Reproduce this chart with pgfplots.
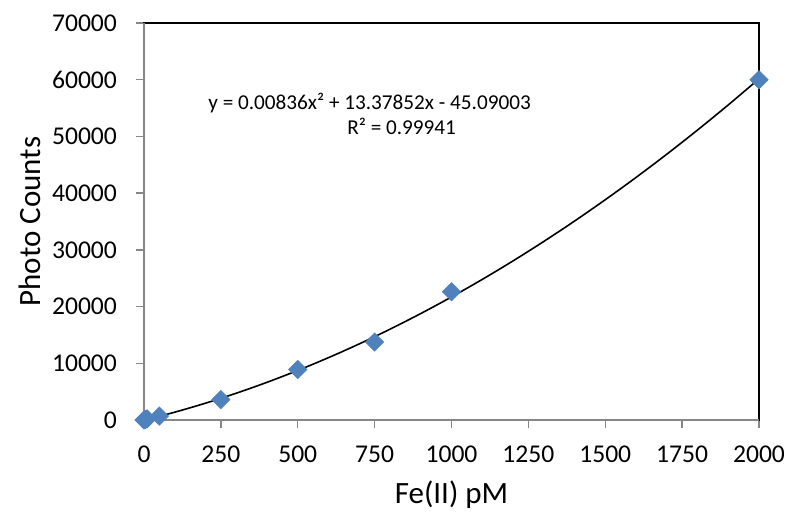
\documentclass[border=0pt]{standalone}
\usepackage{pgfplots}
\pgfplotsset{compat=1.18}
\usepackage{fontspec}
\setmainfont{Carlito}
\definecolor{exblue}{HTML}{4F81BD}
\definecolor{axgray}{HTML}{868686}
\begin{document}
\begin{tikzpicture}
\begin{axis}[
  at={(0,0)}, anchor=south west,
  scale only axis,
  width=307.5pt, height=198.5pt,
  xmin=0, xmax=2000, ymin=0, ymax=70000,
  xtick={0,250,...,2000},
  ytick={0,10000,...,70000},
  tick align=outside,
  xtick pos=bottom, ytick pos=left,
  major tick length=4pt,
  axis line style={black, line width=0.7pt},
  tick style={axgray, line width=0.7pt},
  /pgf/number format/assume math mode=true,
  scaled y ticks=false,
  xticklabel style={/pgf/number format/1000 sep={}, font=\fontsize{12.8}{14}\selectfont, yshift=-5.5pt},
  yticklabel style={/pgf/number format/1000 sep={}, font=\fontsize{12.8}{14}\selectfont, xshift=-6pt},
  xlabel={Fe(II) pM}, ylabel={Photo Counts},
  every axis x label/.style={at={(axis description cs:0.5,0)}, anchor=center, yshift=-37.5pt},
  every axis y label/.style={at={(axis description cs:0,0.5)}, anchor=center, rotate=90, yshift=57pt},
  label style={font=\fontsize{15.5}{17}\selectfont},
  clip=false,
]
\addplot[black, line width=0.8pt, smooth] coordinates {
(0,-45.09) (100,1376.4) (200,2965.0) (300,4720.9) (400,6643.9) (500,8734.2)
(600,10991.6) (700,13416.3) (800,16008.1) (900,18767.2) (1000,21693.4)
(1100,24786.9) (1200,28047.5) (1300,31475.4) (1400,35070.4) (1500,38832.7)
(1600,42762.1) (1700,46858.8) (1800,51122.7) (1900,55553.7) (2000,60151.9)
};
\draw[axgray, line width=0.7pt] (axis description cs:0,1) -- (axis description cs:0,0) -- (axis description cs:1,0);
\addplot[only marks, mark=square*, mark size=3.2pt, color=exblue,
  mark options={rotate=45, exblue}] coordinates {
(0,0) (5,100) (10,200) (50,700) (250,3600) (500,8900) (750,13750) (1000,22600) (2000,60000)
};
\node[anchor=west, inner sep=0pt, font=\fontsize{10.6}{12}\selectfont] at (axis cs:208,55900) {y = 0.00836x² + 13.37852x - 45.09003};
\node[anchor=west, inner sep=0pt, font=\fontsize{10.6}{12}\selectfont] at (axis cs:660,51850) {R² = 0.99941};
\end{axis}
\pgfresetboundingbox
\path (-72pt,-46pt) rectangle (322pt,210pt);
\end{tikzpicture}
\end{document}
